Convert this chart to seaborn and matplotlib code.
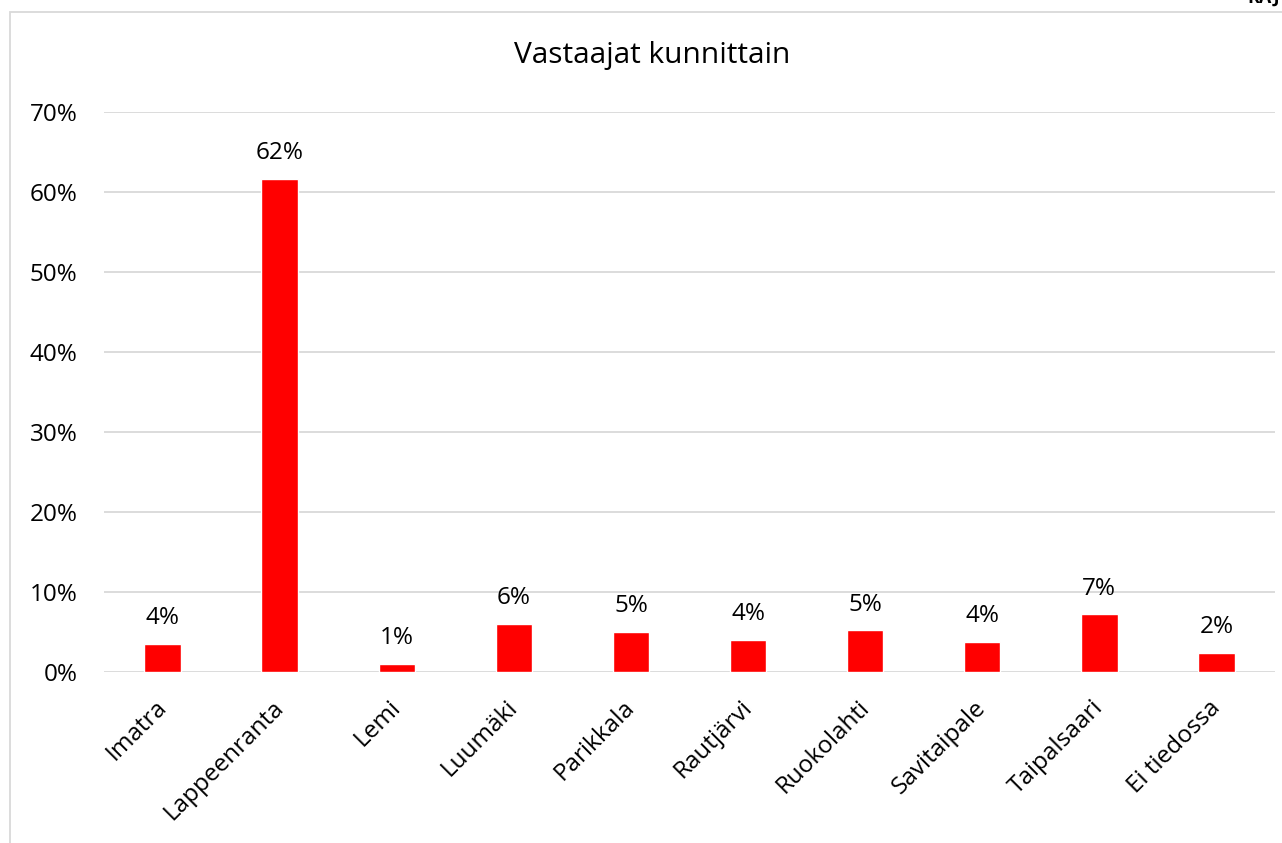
import matplotlib
matplotlib.use("Agg")
import matplotlib.pyplot as plt
import matplotlib.patches as mpatches
import matplotlib.transforms as mtransforms
from matplotlib.ticker import PercentFormatter
import seaborn as sns
import pandas as pd

# Data
kunnat = ["Imatra", "Lappeenranta", "Lemi", "Luumäki", "Parikkala",
          "Rautjärvi", "Ruokolahti", "Savitaipale", "Taipalsaari", "Ei tiedossa"]
osuudet = [0.035, 0.616, 0.010, 0.060, 0.050, 0.040, 0.052, 0.038, 0.072, 0.024]
yticks = [0, 0.1, 0.2, 0.3, 0.4, 0.5, 0.6, 0.7]
otsikko = "Vastaajat kunnittain"

df = pd.DataFrame({"kunta": kunnat, "osuus": osuudet})

sns.set_style("white")
plt.rcParams["font.family"] = ["Open Sans", "DejaVu Sans"]
plt.rcParams["text.color"] = "black"

fig = plt.figure(figsize=(12.82, 8.43), dpi=100)
ax = fig.add_axes([104 / 1282, 1 - 672 / 843, (1275 - 104) / 1282, (672 - 112) / 843])

sns.barplot(data=df, x="kunta", y="osuus", color="#ff0000", width=0.31,
            saturation=1, ax=ax, zorder=3)

ax.set_ylim(0, 0.7)
ax.set_yticks(yticks)
ax.yaxis.set_major_formatter(PercentFormatter(1.0, decimals=0))
ax.grid(axis="y", color="#d9d9d9", linewidth=1.3, zorder=0)
ax.set_xlim(-0.5, len(kunnat) - 0.5)
for s in ax.spines.values():
    s.set_visible(False)
ax.tick_params(axis="both", length=0, labelsize=17.5, colors="black")
ax.tick_params(axis="y", pad=19)
ax.tick_params(axis="x", pad=17)
ax.set_xlabel("")
ax.set_ylabel("")
siirto = mtransforms.ScaledTranslation(-8 / 100, 0, fig.dpi_scale_trans)
for lbl in ax.get_xticklabels():
    lbl.set_rotation(45)
    lbl.set_ha("right")
    lbl.set_rotation_mode("anchor")
    lbl.set_transform(lbl.get_transform() + siirto)

for i, v in enumerate(osuudet):
    ax.annotate(f"{round(v * 100):.0f}%", (i, v), xytext=(0, 10),
                textcoords="offset points", ha="center", va="bottom", fontsize=17.5)

fig.text((511 + 793) / 2 / 1282, 1 - 56 / 843, otsikko, ha="center", va="center", fontsize=21.5)

# chart frame and clipped header text
fig.patches.append(mpatches.Rectangle((10 / 1282, -0.1), 1.1, 1 - 12 / 843 + 0.1,
                                      transform=fig.transFigure, fill=False,
                                      edgecolor="#d9d9d9", linewidth=1.3))
fig.text(1280 / 1282, 1 + 2 / 843, "RAJ", ha="right", va="center", fontsize=13,
         fontweight="bold")

fig.savefig("out.png", dpi=100)
